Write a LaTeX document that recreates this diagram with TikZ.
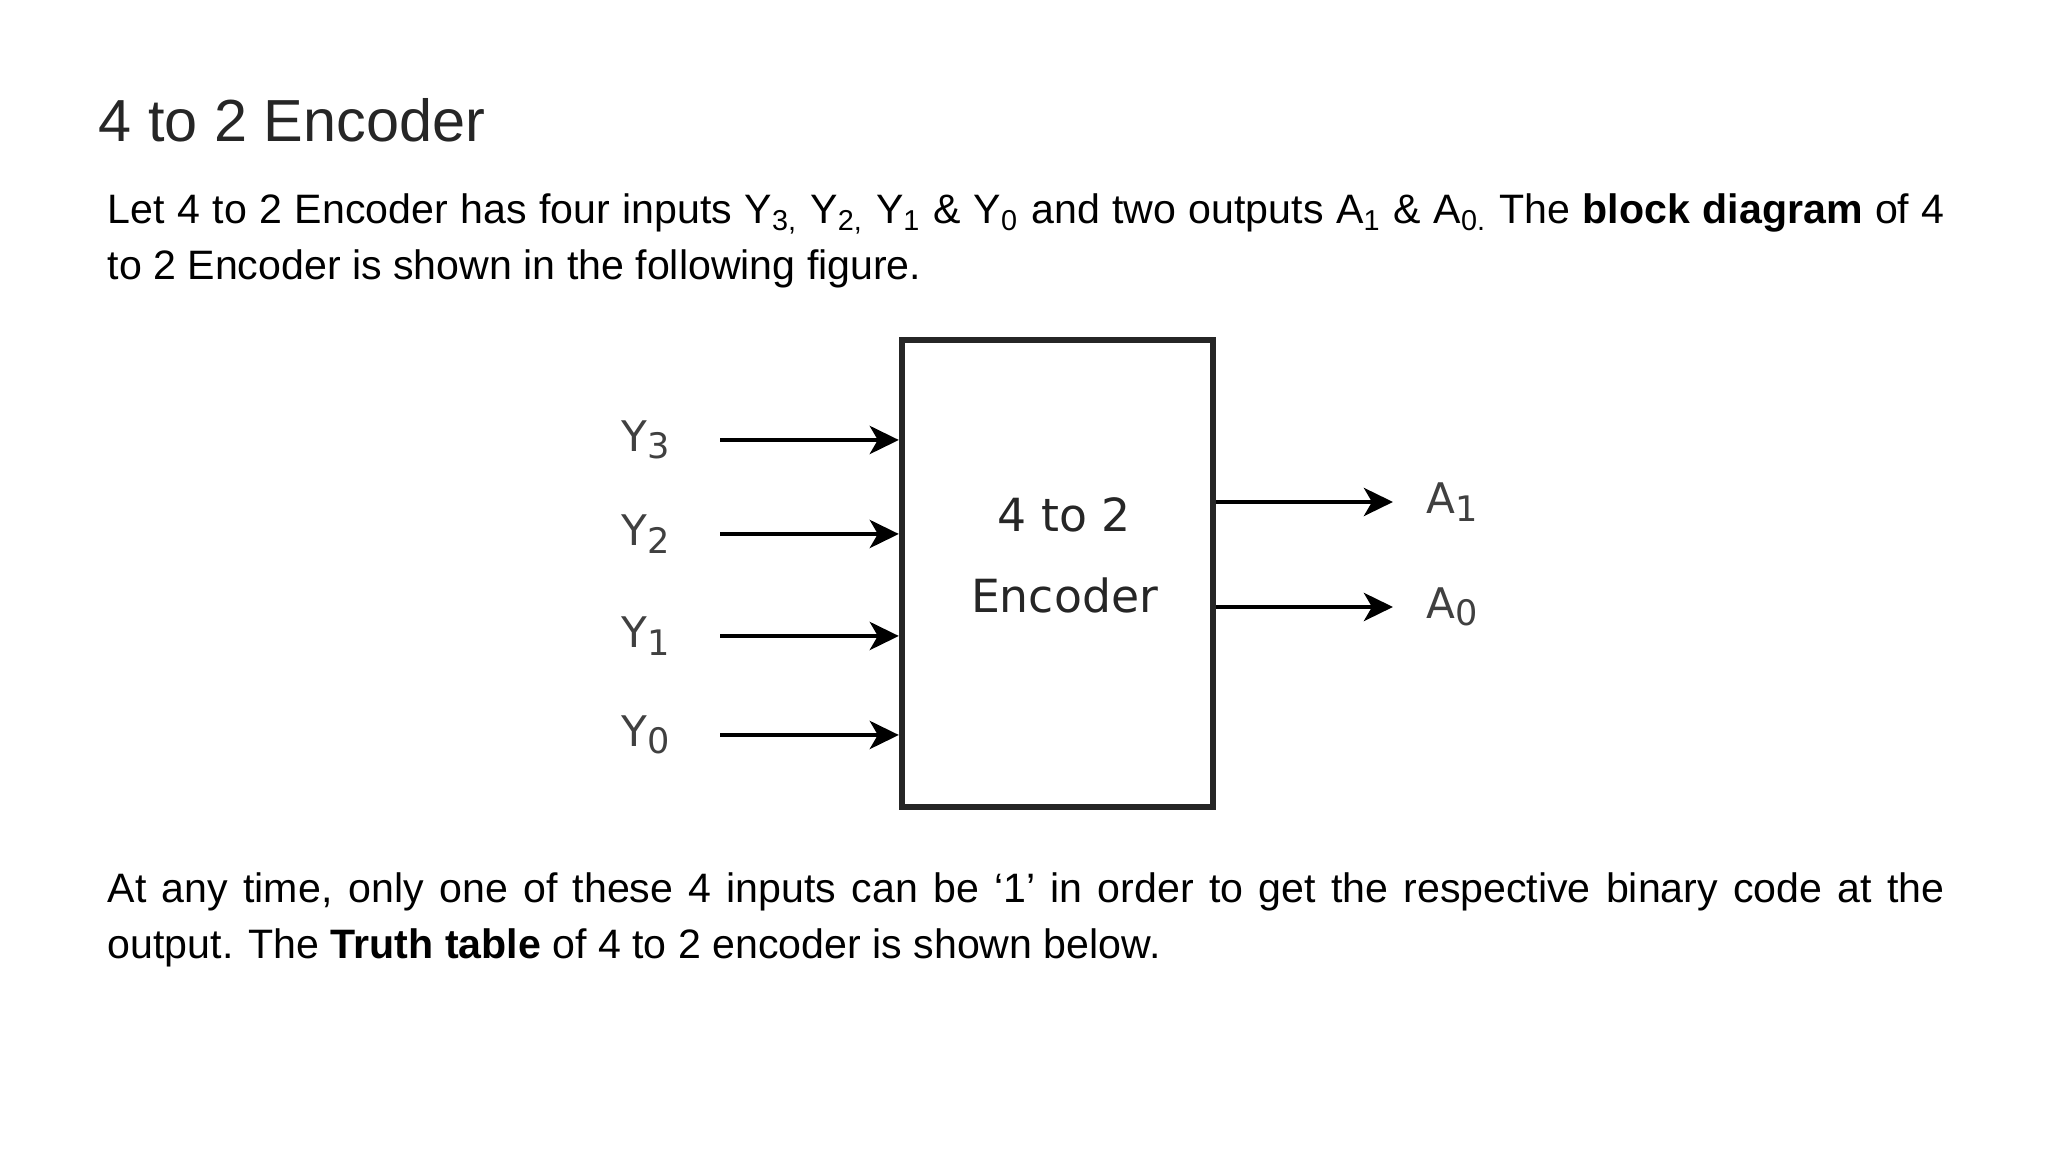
\documentclass[tikz,border=0pt]{standalone}
\usepackage{fontspec}
\setmainfont{Liberation Sans}
\newfontfamily\diagfont{DejaVu Sans}
\usetikzlibrary{arrows.meta,positioning}

\newcommand{\lowidx}[1]{\raisebox{-0.32ex}{\fontsize{10}{10}\selectfont #1}}

\begin{document}
\begin{tikzpicture}[
  heading/.style={font=\fontsize{16.9}{20}\selectfont, text=black!85, anchor=base west, inner sep=0pt},
  para/.style={font=\fontsize{11.7}{15.9}\selectfont, text width=18.37cm, align=justify, anchor=base west, inner sep=0pt},
  block/.style={rectangle, draw=black!85, line width=1.8pt, minimum width=3.11cm, minimum height=4.67cm},
  pin/.style={font=\diagfont\fontsize{12}{14}\selectfont, text=black!75, inner sep=0pt},
  arr/.style={-{Stealth[length=2.9mm, width=2.8mm, inset=0.8mm]}, line width=1.35pt},
]
\useasboundingbox (0,0) rectangle (20.48,11.52);

% ---------------- text above ----------------
\node[heading] (title) at (0.98,10.10) {4 to 2 Encoder};
\node[para] (intro) at (1.07,9.28) {Let 4 to 2 Encoder has four inputs Y\textsubscript{3,} Y\textsubscript{2,} Y\textsubscript{1} \& Y\textsubscript{0} and two outputs A\textsubscript{1} \& A\textsubscript{0.} The \textbf{block diagram} of 4\linebreak to 2 Encoder is shown in the following figure.};

% ---------------- block diagram ----------------
\node[block] (enc) at (10.575,5.785) {};
\node[font=\diagfont\fontsize{13}{23}\selectfont, text=black!85, align=center] (enctxt) at ([xshift=0.07cm, yshift=0.18cm]enc.center) {4 to 2\\Encoder};

\coordinate (in3) at (7.20,7.12);
\coordinate (in2) at (7.20,6.18);
\coordinate (in1) at (7.20,5.16);
\coordinate (in0) at (7.20,4.17);
\node[pin] (y3) at (6.46,7.12) {Y\lowidx{3}};
\node[pin] (y2) at (6.46,6.18) {Y\lowidx{2}};
\node[pin] (y1) at (6.46,5.16) {Y\lowidx{1}};
\node[pin] (y0) at (6.46,4.17) {Y\lowidx{0}};

\coordinate (out1) at (13.93,6.50);
\coordinate (out0) at (13.93,5.45);
\node[pin] (a1) at (14.52,6.50) {A\lowidx{1}};
\node[pin] (a0) at (14.52,5.45) {A\lowidx{0}};

\foreach \i in {3,2,1,0}
  \draw[arr] (in\i) -- (in\i -| enc.west);
\foreach \i in {1,0}
  \draw[arr] (out\i -| enc.east) -- (out\i);

% ---------------- text below ----------------
\node[para] (note) at (1.07,2.49) {At any time, only one of these 4 inputs can be `1' in order to get the respective binary code at the\linebreak output. The \textbf{Truth table} of 4 to 2 encoder is shown below.};
\end{tikzpicture}
\end{document}
